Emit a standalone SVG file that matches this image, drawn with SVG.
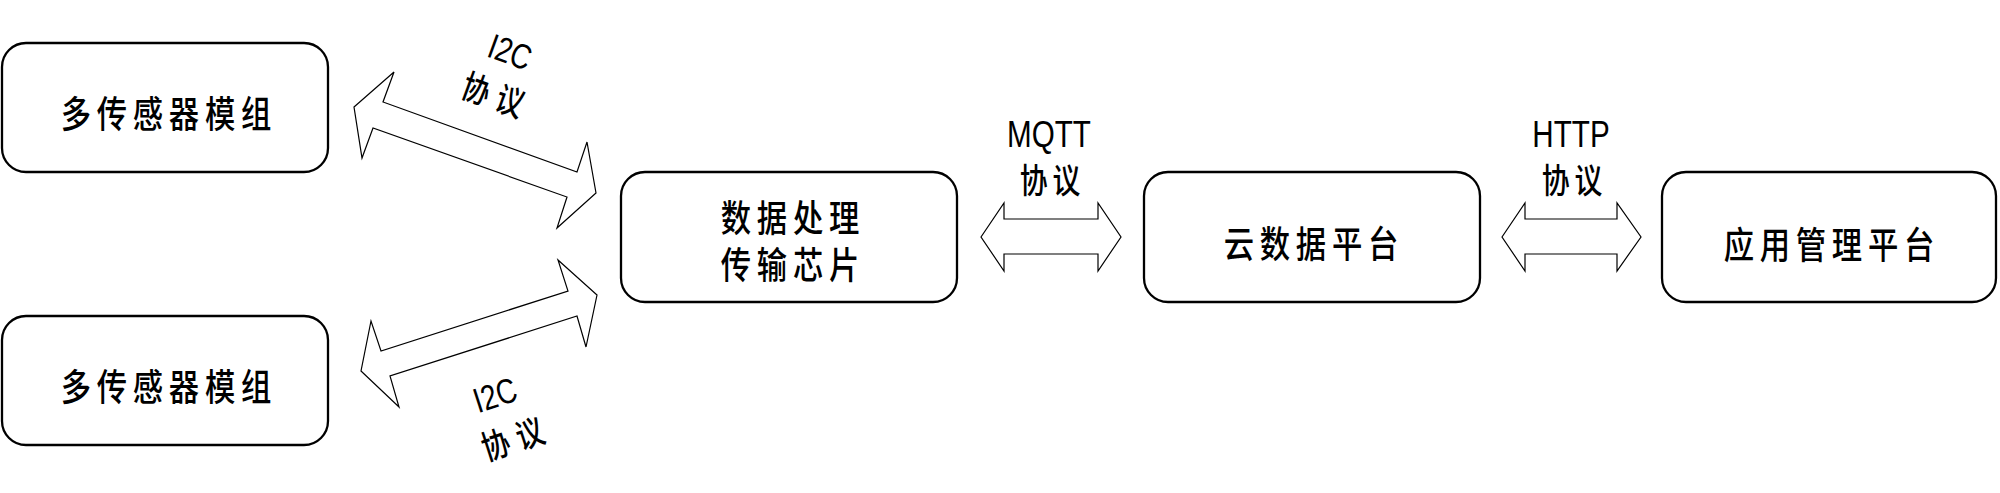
<svg xmlns="http://www.w3.org/2000/svg" width="2000" height="493" viewBox="0 0 2000 493">
<style>
.box{fill:#fff;stroke:#000;stroke-width:2.3}
.arr{fill:#fff;stroke:#000;stroke-width:1.2;stroke-linejoin:miter}
.cjk{font-family:"Noto Sans CJK SC","Noto Sans",sans-serif;font-weight:500;fill:#000;text-anchor:middle;dominant-baseline:central}
.lat{font-family:"Liberation Sans",Arial,sans-serif;fill:#000;text-anchor:middle;dominant-baseline:central}
.n{font-size:37px;letter-spacing:7px}
.l{font-size:34px;letter-spacing:6px}
</style>
<rect width="2000" height="493" fill="#fff"/>
<g id="connectors">
<polygon class="arr" points="354,107 394,72 383,102 577,172 587,142 596,193 557,228 567,197 373,128 362,158"/>
<polygon class="arr" points="361,371 371,321 381,351 568,291 558,260 597,295 586,347 577,316 390,376 399,407"/>
<polygon class="arr" points="981,237 1004,203 1004,219 1098,219 1098,203 1121,237 1098,271 1098,254 1004,254 1004,271"/>
<polygon class="arr" points="1502,237 1525,203 1525,219 1617,219 1617,203 1641,237 1617,271 1617,254 1525,254 1525,271"/>
<text class="lat" font-size="35" transform="translate(510,52) rotate(20) scale(0.8,1)">I2C</text>
<text class="cjk" font-size="34" letter-spacing="10" transform="translate(494,93) rotate(20) scale(0.82,1)" x="5">协议</text>
<text class="lat" font-size="35" transform="translate(495,395) rotate(-18) scale(0.8,1)">I2C</text>
<text class="cjk" font-size="34" letter-spacing="10" transform="translate(512,437) rotate(-18) scale(0.82,1)" x="5">协议</text>
<text class="lat" font-size="37" transform="translate(1049,134) scale(0.8,1)">MQTT</text>
<text class="cjk l" transform="translate(1050,178) scale(0.82,1)" x="3">协议</text>
<text class="lat" font-size="37" transform="translate(1571,134) scale(0.8,1)">HTTP</text>
<text class="cjk l" transform="translate(1572,178) scale(0.82,1)" x="3">协议</text>
</g>
<g id="sensor1">
<rect class="box" x="2" y="43" width="326" height="129" rx="24"/>
<text class="cjk n" transform="translate(166,112) scale(0.82,1)" x="3.5">多传感器模组</text>
</g>
<g id="sensor2">
<rect class="box" x="2" y="316" width="326" height="129" rx="24"/>
<text class="cjk n" transform="translate(166,385) scale(0.82,1)" x="3.5">多传感器模组</text>
</g>
<g id="chip">
<rect class="box" x="621" y="172" width="336" height="130" rx="24"/>
<text class="cjk n" transform="translate(790,216) scale(0.82,1)"><tspan x="3.5" y="0">数据处理</tspan><tspan x="3.5" y="47">传输芯片</tspan></text>
</g>
<g id="cloud">
<rect class="box" x="1144" y="172" width="336" height="130" rx="24"/>
<text class="cjk n" transform="translate(1311,242) scale(0.82,1)" x="3.5">云数据平台</text>
</g>
<g id="app">
<rect class="box" x="1662" y="172" width="334" height="130" rx="24"/>
<text class="cjk n" transform="translate(1829,243) scale(0.82,1)" x="3.5">应用管理平台</text>
</g>
</svg>
